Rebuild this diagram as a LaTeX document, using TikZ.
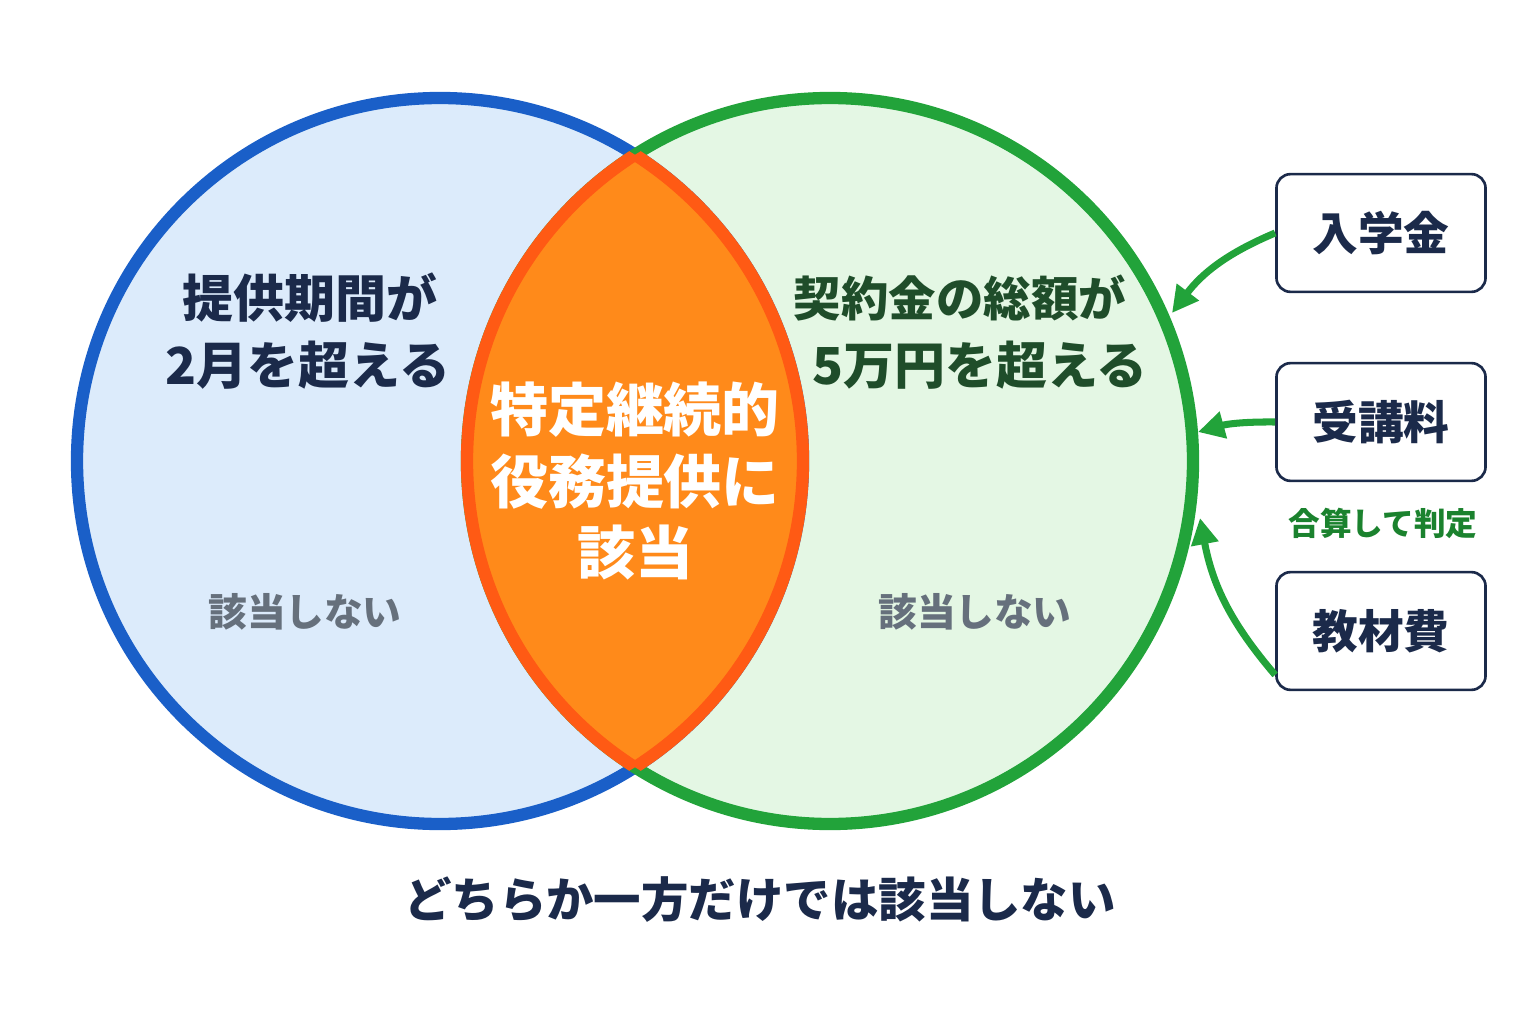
\documentclass[tikz,border=0pt]{standalone}
\usepackage{fontspec}
\setmainfont{Noto Sans CJK JP}
\usetikzlibrary{arrows.meta}
\definecolor{bluering}{HTML}{1A5FC8}
\definecolor{bluefill}{HTML}{DCEBFB}
\definecolor{greenring}{HTML}{22A33A}
\definecolor{greenfill}{HTML}{DFF6DF}
\definecolor{lensfill}{HTML}{FF8A1A}
\definecolor{lensring}{HTML}{FF5A14}
\definecolor{navy}{HTML}{1B2A4A}
\definecolor{darkgreen}{HTML}{1F4D2A}
\definecolor{notgray}{HTML}{66707C}
\tikzset{
  title/.style={font=\bfseries\fontsize{29}{32}\selectfont, text=navy, align=center},
  lenstext/.style={font=\bfseries\fontsize{33}{38}\selectfont, text=white},
  nottext/.style={font=\bfseries\fontsize{22}{26}\selectfont, text=notgray},
  feebox/.style={draw=navy, line width=1.5pt, rounded corners=8pt, fill=white,
                 minimum width=119pt, minimum height=67pt,
                 font=\bfseries\fontsize{26}{30}\selectfont, text=navy},
  feearrow/.style={-{Triangle[length=15pt,width=15pt]}, draw=greenring, line width=4pt}
}
\begin{document}
\begin{tikzpicture}[x=0.02cm, y=-0.02cm]
	\useasboundingbox (0,0) rectangle (1536,1024);

	% circles
	\fill[bluefill] (440,461) circle (363);
	\fill[greenfill, opacity=0.85] (830,461) circle (363);
	\draw[bluering, line width=7pt] (440,461) circle (363);
	\draw[greenring, line width=7pt] (830,461) circle (363);

	% lens
	\begin{scope}
		\clip (440,461) circle (363);
		\fill[lensfill] (830,461) circle (363);
		\draw[lensring, line width=7pt] (830,461) circle (363);
	\end{scope}
	\begin{scope}
		\clip (830,461) circle (363);
		\draw[lensring, line width=7pt] (440,461) circle (363);
	\end{scope}

	% texts in the circles
	\node[title] (left1) at (310,298) {提供期間が};
	\node[title] (left2) at (308,365) {2月を超える};
	\node[title, text=darkgreen, font=\bfseries\fontsize{27}{30}\selectfont] (right1) at (960,298) {契約金の総額が};
	\node[title, text=darkgreen] (right2) at (980,365) {5万円を超える};
	\node[lenstext] (lens1) at (635,410) {特定継続的};
	\node[lenstext] (lens2) at (635,482) {役務提供に};
	\node[lenstext] (lens3) at (635,553) {該当};
	\node[nottext] (notleft) at (305,612) {該当しない};
	\node[nottext] (notright) at (975,612) {該当しない};

	% fee boxes
	\node[feebox] (entry) at (1381,233) {入学金};
	\node[feebox] (course) at (1381,422) {受講料};
	\node[feebox] (books) at (1381,631) {教材費};
	\node[font=\bfseries\fontsize{18}{20}\selectfont, text=greenring!80!black] (sum) at (1383,523) {合算して判定};
	\coordinate (hit1) at (1172,313);
	\coordinate (hit2) at (1198,432);
	\coordinate (hit3) at (1200,518);
	\draw[feearrow] (entry.west) to[bend right=15] (hit1);
	\draw[feearrow] (course.west) to[bend right=8] (hit2);
	\draw[feearrow] ([yshift=-25pt]books.west) to[bend left=15] (hit3);

	\node[font=\bfseries\fontsize{27}{30}\selectfont, text=navy] (bottom) at (760,900) {どちらか一方だけでは該当しない};
\end{tikzpicture}
\end{document}
